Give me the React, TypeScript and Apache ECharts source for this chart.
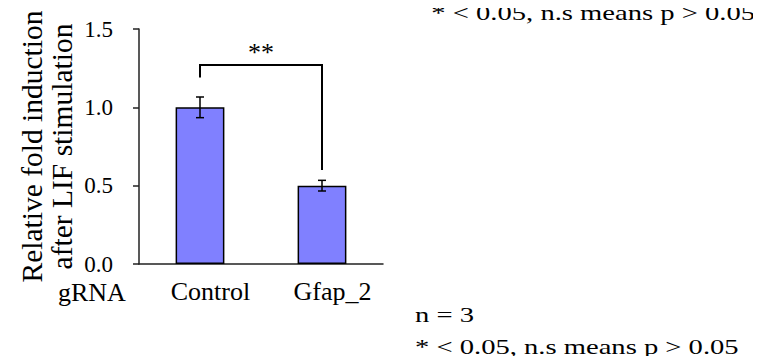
import React, { useEffect, useRef } from "react";
import * as echarts from "echarts";

const categories = ["Control", "Gfap_2"];
const means = [1.0, 0.5];
const errors = [0.066, 0.034];
const yTicks = { min: 0, max: 1.5, interval: 0.5 };
// significance bracket: [leftLegBottom, barTop, rightLegBottom]
const bracket = [1.19, 1.27, 0.6];
const bracketLabel = "**";
const starY = 1.35;
const xTitle = "gRNA";
const yTitle = ["Relative fold induction", "after LIF stimulation"];
const noteTop = "* < 0.05, n.s means p > 0.05";
const noteBottom = ["n = 3", "* < 0.05, n.s means p > 0.05"];

const FONT = "Liberation Serif";

export default function App() {
  const ref = useRef<HTMLDivElement>(null);
  useEffect(() => {
    if (!ref.current) return;
    const chart = echarts.init(ref.current, null, { renderer: "svg" });
    const errData = categories.map((c, i) => [i, means[i] - errors[i], means[i] + errors[i]]);
    chart.setOption({
      animation: false,
      backgroundColor: "#fff",
      textStyle: { fontFamily: FONT },
      grid: { left: 139, right: 378, top: 29, bottom: 100, containLabel: false },
      xAxis: {
        type: "category",
        data: categories,
        axisLine: { lineStyle: { color: "#222", width: 1.5 } },
        axisTick: { show: false },
        axisLabel: {
          color: "#000",
          fontFamily: FONT,
          fontSize: 26,
          margin: 14,
          padding: [0, 0, 0, 21],
        },
      },
      yAxis: {
        type: "value",
        min: yTicks.min,
        max: yTicks.max,
        interval: yTicks.interval,
        splitLine: { show: false },
        axisLine: { show: true, lineStyle: { color: "#222", width: 1.5 } },
        axisTick: { show: true, length: 6, lineStyle: { color: "#222", width: 1.5 } },
        axisLabel: {
          color: "#000",
          fontFamily: FONT,
          fontSize: 23,
          margin: 26,
          formatter: (v: number) => v.toFixed(1),
        },
        name: yTitle.join("\n"),
        nameLocation: "middle",
        nameRotate: 90,
        nameGap: 62,
        nameTextStyle: { color: "#000", fontFamily: FONT, fontSize: 29.5, lineHeight: 30 },
      },
      series: [
        {
          type: "bar",
          data: means,
          barWidth: "40%",
          itemStyle: { color: "#8080ff", borderColor: "#000", borderWidth: 1.5 },
        },
        {
          type: "custom",
          data: errData,
          z: 10,
          renderItem: (params: any, api: any) => {
            const i = api.value(0);
            const lo = api.coord([i, api.value(1)]);
            const hi = api.coord([i, api.value(2)]);
            const w = 4;
            const st = { stroke: "#000", lineWidth: 1.5 };
            return {
              type: "group",
              children: [
                { type: "line", shape: { x1: lo[0], y1: lo[1], x2: hi[0], y2: hi[1] }, style: st },
                { type: "line", shape: { x1: lo[0] - w, y1: lo[1], x2: lo[0] + w, y2: lo[1] }, style: st },
                { type: "line", shape: { x1: hi[0] - w, y1: hi[1], x2: hi[0] + w, y2: hi[1] }, style: st },
              ],
            };
          },
        },
        {
          type: "custom",
          data: [[0, 1, bracket[0], bracket[1], bracket[2]]],
          z: 10,
          renderItem: (params: any, api: any) => {
            const a = api.coord([api.value(0), api.value(2)]);
            const b = api.coord([api.value(0), api.value(3)]);
            const c = api.coord([api.value(1), api.value(3)]);
            const d = api.coord([api.value(1), api.value(4)]);
            const sy = api.coord([api.value(0), starY])[1];
            const sx = (b[0] + c[0]) / 2;
            return {
              type: "group",
              children: [
                {
                  type: "polyline",
                  shape: { points: [a, b, c, d] },
                  style: { stroke: "#000", lineWidth: 2, fill: null },
                },
                {
                  type: "text",
                  x: sx,
                  y: sy,
                  style: {
                    text: bracketLabel,
                    fontFamily: FONT,
                    fontSize: 26,
                    fill: "#000",
                    align: "center",
                    verticalAlign: "middle",
                  },
                },
              ],
            };
          },
        },
      ],
      graphic: [
        {
          type: "text",
          x: 58,
          y: 292,
          style: { text: xTitle, fontFamily: FONT, fontSize: 26, fill: "#000", align: "left", verticalAlign: "middle" },
        },
        {
          type: "text",
          x: 755,
          y: 12.5,
          scaleX: 1.3,
          style: { text: noteTop, fontFamily: FONT, fontSize: 22, fill: "#000", align: "right", verticalAlign: "middle" },
        },
        {
          type: "text",
          x: 415,
          y: 314.5,
          scaleX: 1.3,
          style: { text: noteBottom[0], fontFamily: FONT, fontSize: 22, fill: "#000", align: "left", verticalAlign: "middle" },
        },
        {
          type: "text",
          x: 415,
          y: 346.5,
          scaleX: 1.3,
          style: { text: noteBottom[1], fontFamily: FONT, fontSize: 22, fill: "#000", align: "left", verticalAlign: "middle" },
        },
      ],
    });
    return () => chart.dispose();
  }, []);
  return <div ref={ref} style={{ width: 761, height: 364, margin: -8 }} />;
}
